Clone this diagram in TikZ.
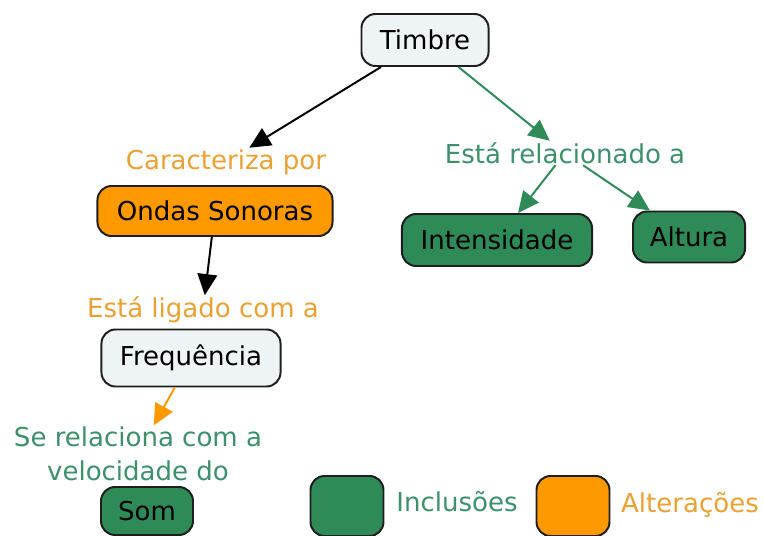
\documentclass[tikz,border=0pt]{standalone}
\usepackage{fontspec}
\setmainfont{DejaVu Sans}
\definecolor{mapgreen}{RGB}{46,139,87}
\definecolor{maporange}{RGB}{255,153,0}
\definecolor{maplight}{RGB}{238,244,246}
\definecolor{labelgreen}{RGB}{60,145,105}
\definecolor{labelorange}{RGB}{235,160,50}
\definecolor{mapborder}{RGB}{30,30,30}
\usetikzlibrary{arrows.meta,positioning}

\begin{document}
\begin{tikzpicture}[
  x=0.025cm, y=-0.025cm,
  every node/.style={font=\fontsize{18.5}{24}\selectfont, align=center, inner sep=1pt},
  concept/.style={draw=mapborder, line width=1.4pt, rounded corners=10pt, text=black},
  lightbox/.style={concept, fill=maplight},
  greenbox/.style={concept, fill=mapgreen},
  orangebox/.style={concept, fill=maporange},
  greenlabel/.style={text=labelgreen},
  orangelabel/.style={text=labelorange},
  link/.style={-{Triangle[length=15pt, width=14pt]}, line width=1.4pt},
]
\useasboundingbox (0,0) rectangle (764,536);

% Concepts
\node[lightbox, minimum width=3.175cm, minimum height=1.3cm] (timbre) at (425,40) {Timbre};
\node[orangebox, minimum width=5.875cm, minimum height=1.25cm] (ondas) at (215,211) {Ondas Sonoras};
\node[greenbox, minimum width=4.75cm, minimum height=1.3cm] (intens) at (497,240) {Intensidade};
\node[greenbox, minimum width=2.8cm, minimum height=1.275cm] (altura) at (689,237) {Altura};
\node[lightbox, minimum width=4.475cm, minimum height=1.425cm] (freq) at (191,358) {Frequência};
\node[greenbox, minimum width=2.3cm, minimum height=1.2cm] (som) at (147,511) {Som};

% Linking phrases
\node[orangelabel] (caract) at (226,162) {Caracteriza por};
\node[greenlabel] (relac) at (565,153) {Está relacionado a};
\node[orangelabel] (ligado) at (203,310) {Está ligado com a};
\node[greenlabel] (serel) at (138,454) {Se relaciona com a\\velocidade do};

% Arrows
\draw[link, black] (timbre) -- (caract);
\draw[link, mapgreen] (timbre) -- (relac);
\draw[link, mapgreen] (relac) -- (intens);
\draw[link, mapgreen] (relac) -- (altura);
\draw[link, black] (ondas) -- (ligado);
\draw[link, maporange] (freq) -- (serel);

% Legend
\node[greenbox, minimum width=1.825cm, minimum height=1.5cm] (leggreen) at (347,506) {};
\node[greenlabel] (legincl) at (457,502) {Inclusões};
\node[orangebox, minimum width=1.825cm, minimum height=1.5cm] (legorange) at (573,506) {};
\node[orangelabel] (legalt) at (690,505) {Alterações};

\end{tikzpicture}
\end{document}
